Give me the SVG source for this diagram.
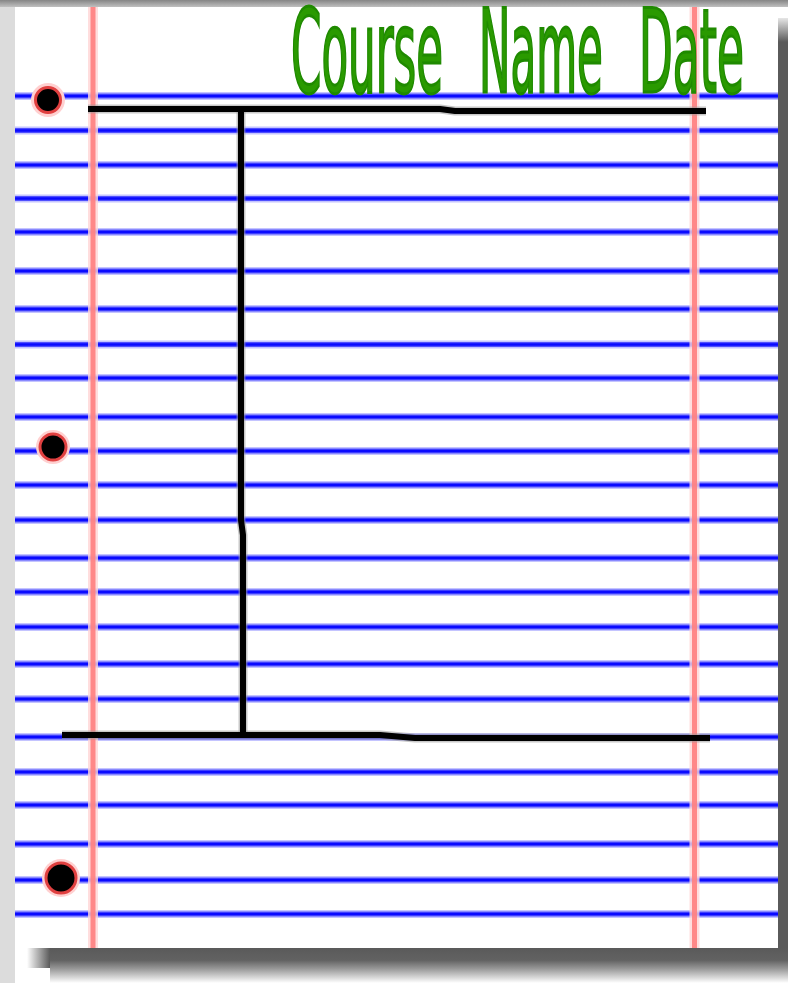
<svg xmlns="http://www.w3.org/2000/svg" width="788" height="983" viewBox="0 0 788 983">
  <defs>
    <linearGradient id="topbar" x1="0" y1="0" x2="0" y2="1">
      <stop offset="0" stop-color="#858585"/>
      <stop offset="1" stop-color="#c0c0c0"/>
    </linearGradient>
    <linearGradient id="rightTop" x1="0" y1="0" x2="0" y2="1">
      <stop offset="0" stop-color="#e6e6e6"/>
      <stop offset="1" stop-color="#5a5a5a"/>
    </linearGradient>
    <linearGradient id="bottomShade" x1="0" y1="0" x2="0" y2="1">
      <stop offset="0" stop-color="#5a5a5a"/>
      <stop offset="0.35" stop-color="#626262"/>
      <stop offset="0.6" stop-color="#9a9a9a"/>
      <stop offset="1" stop-color="#ffffff"/>
    </linearGradient>
    <linearGradient id="bottomLeft" x1="0" y1="0" x2="1" y2="0">
      <stop offset="0" stop-color="#5a5a5a" stop-opacity="0"/>
      <stop offset="1" stop-color="#5a5a5a" stop-opacity="1"/>
    </linearGradient>
    <style>
      .rule-halo { stroke: #c4c4ff; stroke-width: 8; fill: none; }
      .rule-mid { stroke: #5050ff; stroke-width: 5; fill: none; }
      .rule { stroke: #0a0aff; stroke-width: 2.5; fill: none; }
      .margin-halo { stroke: #ffd6d6; stroke-width: 10; fill: none; opacity: 0.8; }
      .margin { stroke: #ff8080; stroke-width: 5; fill: none; opacity: 0.92; }
      .ink { stroke: #000; stroke-width: 6; fill: none; stroke-linecap: butt; stroke-linejoin: round; }
      .ink-soft { stroke: #9a9a9a; stroke-width: 9; fill: none; opacity: 0.55; stroke-linejoin: round; }
      .hole-halo { fill: #ffd0d0; }
      .hole { fill: #000; stroke: #e04040; stroke-width: 3; }
      .title { font-family: "DejaVu Sans", "Liberation Sans", sans-serif; font-size: 115px; fill: #2a9a00; stroke: #1f8a00; stroke-width: 3; }
    </style>
  </defs>

  <!-- background -->
  <rect x="0" y="0" width="788" height="983" fill="#ffffff"/>
  <rect x="0" y="0" width="15" height="983" fill="#dcdcdc"/>
  <rect x="0" y="0" width="788" height="7" fill="url(#topbar)"/>

  <!-- paper shadow -->
  <g id="shadow">
    <rect x="778" y="18" width="10" height="24" fill="url(#rightTop)"/>
    <rect x="778" y="42" width="10" height="918" fill="#5a5a5a"/>
    <rect x="50" y="948" width="738" height="35" fill="url(#bottomShade)"/>
    <rect x="27" y="948" width="23" height="20" fill="url(#bottomLeft)"/>
  </g>

  <!-- paper -->
  <rect id="paper" x="15" y="7" width="763" height="941" fill="#ffffff"/>

  <!-- ruled lines -->
  <g id="rules">
    <path class="rule-halo" d="M15,96H778M15,130.5H778M15,165H778M15,198.5H778M15,232H778M15,271H778M15,309H778M15,344.5H778M15,378H778M15,417H778M15,451H778M15,485H778M15,520H778M15,558H778M15,592H778M15,627H778M15,664H778M15,699H778M15,737H778M15,772H778M15,805H778M15,844H778M15,880H778M15,914H778"/>
    <path class="rule-mid" d="M15,96H778M15,130.5H778M15,165H778M15,198.5H778M15,232H778M15,271H778M15,309H778M15,344.5H778M15,378H778M15,417H778M15,451H778M15,485H778M15,520H778M15,558H778M15,592H778M15,627H778M15,664H778M15,699H778M15,737H778M15,772H778M15,805H778M15,844H778M15,880H778M15,914H778"/>
    <path class="rule" d="M15,96H778M15,130.5H778M15,165H778M15,198.5H778M15,232H778M15,271H778M15,309H778M15,344.5H778M15,378H778M15,417H778M15,451H778M15,485H778M15,520H778M15,558H778M15,592H778M15,627H778M15,664H778M15,699H778M15,737H778M15,772H778M15,805H778M15,844H778M15,880H778M15,914H778"/>
  </g>

  <!-- margins -->
  <g id="margins">
    <path class="margin-halo" d="M93,7V948M694.5,7V948"/>
    <path class="margin" d="M93,7V948M694.5,7V948"/>
  </g>

  <!-- title -->
  <g id="title">
    <text class="title" transform="translate(291,92) scale(0.38,1)" x="0" y="0" textLength="400" lengthAdjust="spacingAndGlyphs">Course</text>
    <text class="title" transform="translate(479,92) scale(0.38,1)" x="0" y="0" textLength="326" lengthAdjust="spacingAndGlyphs">Name</text>
    <text class="title" transform="translate(639,92) scale(0.38,1)" x="0" y="0" textLength="276" lengthAdjust="spacingAndGlyphs">Date</text>
  </g>

  <!-- binder holes -->
  <g id="hole-top">
    <circle class="hole-halo" cx="48" cy="100" r="17"/>
    <circle class="hole" cx="48" cy="100" r="12.5"/>
  </g>
  <g id="hole-middle">
    <circle class="hole-halo" cx="53" cy="447" r="17"/>
    <circle class="hole" cx="53" cy="447" r="13"/>
  </g>
  <g id="hole-bottom">
    <circle class="hole-halo" cx="61" cy="878" r="19"/>
    <circle class="hole" cx="61" cy="878" r="15"/>
  </g>

  <!-- T-chart ink lines -->
  <g id="connectors">
    <path class="ink-soft" d="M88,109 L440,109 L455,111 L706,111"/>
    <path class="ink-soft" d="M241,110 L241,520 L243,535 L243,735"/>
    <path class="ink-soft" d="M62,735 L380,735 L415,738 L710,738"/>
    <path class="ink" d="M88,109 L440,109 L455,111 L706,111"/>
    <path class="ink" d="M241,110 L241,520 L243,535 L243,735"/>
    <path class="ink" d="M62,735 L380,735 L415,738 L710,738"/>
  </g>
</svg>
